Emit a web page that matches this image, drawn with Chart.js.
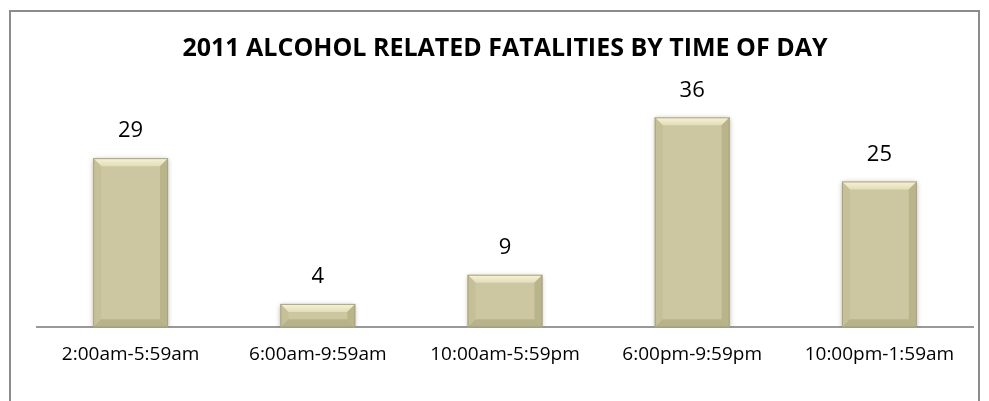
<!DOCTYPE html>
<html>
<head>
<meta charset="utf-8">
<script src="https://cdn.jsdelivr.net/npm/chart.js@4.4.1/dist/chart.umd.min.js"></script>
<style>
  html, body { margin: 0; padding: 0; background: #fff; }
  #wrap { width: 989px; height: 401px; }
</style>
</head>
<body>
<div id="wrap"><canvas id="fatalChart" width="989" height="401"></canvas></div>
<script>
// chart data
const chartTitle = '2011 ALCOHOL RELATED FATALITIES BY TIME OF DAY';
const timeSlots = ['2:00am-5:59am', '6:00am-9:59am', '10:00am-5:59pm', '6:00pm-9:59pm', '10:00pm-1:59am'];
const fatalities = [29, 4, 9, 36, 25];

const fontFamily = '"Open Sans", Lato, sans-serif';

// frame + title drawn behind everything
const framePlugin = {
    id: 'frame',
    beforeDraw(chart) {
        const ctx = chart.ctx;
        const area = chart.chartArea;
        ctx.save();
        ctx.fillStyle = '#fff';
        ctx.fillRect(0, 0, chart.width, chart.height);
        ctx.strokeStyle = '#8c8c8c';
        ctx.lineWidth = 2;
        ctx.strokeRect(10, 11, 969, 420);
        ctx.fillStyle = '#000';
        ctx.font = 'bold 25px ' + fontFamily;
        ctx.textAlign = 'center';
        ctx.textBaseline = 'middle';
        ctx.fillText(chartTitle, (area.left + area.right) / 2, 49);
        ctx.restore();
    }
};

// bevelled bars with a soft shadow and value labels
const bevelPlugin = {
    id: 'bevel',
    beforeDatasetsDraw(chart) {
        const ctx = chart.ctx;
        ctx.save();
        ctx.shadowColor = 'rgba(0,0,0,0.35)';
        ctx.shadowBlur = 5;
        ctx.shadowOffsetX = 0;
        ctx.shadowOffsetY = 1;
    },
    afterDatasetsDraw(chart) {
        const ctx = chart.ctx;
        ctx.restore();
        ctx.save();
        const meta = chart.getDatasetMeta(0);
        meta.data.forEach((bar, i) => {
            const left = bar.x - bar.width / 2;
            const right = bar.x + bar.width / 2;
            const top = bar.y;
            const bottom = bar.base;
            const b = Math.min(8, (bottom - top) / 2);

            // top bevel (light)
            let g = ctx.createLinearGradient(0, top, 0, top + b);
            g.addColorStop(0, '#f6f3d8');
            g.addColorStop(1, '#e2ddb8');
            ctx.fillStyle = g;
            ctx.beginPath();
            ctx.moveTo(left, top);
            ctx.lineTo(right, top);
            ctx.lineTo(right - b, top + b);
            ctx.lineTo(left + b, top + b);
            ctx.closePath();
            ctx.fill();

            // left bevel
            ctx.fillStyle = '#c6c098';
            ctx.beginPath();
            ctx.moveTo(left, top);
            ctx.lineTo(left + b, top + b);
            ctx.lineTo(left + b, bottom - b);
            ctx.lineTo(left, bottom);
            ctx.closePath();
            ctx.fill();

            // right bevel
            ctx.fillStyle = '#bab48b';
            ctx.beginPath();
            ctx.moveTo(right, top);
            ctx.lineTo(right - b, top + b);
            ctx.lineTo(right - b, bottom - b);
            ctx.lineTo(right, bottom);
            ctx.closePath();
            ctx.fill();

            // bottom bevel (dark)
            ctx.fillStyle = '#b8b28a';
            ctx.beginPath();
            ctx.moveTo(left, bottom);
            ctx.lineTo(left + b, bottom - b);
            ctx.lineTo(right - b, bottom - b);
            ctx.lineTo(right, bottom);
            ctx.closePath();
            ctx.fill();

            // outline
            ctx.strokeStyle = '#a9a37f';
            ctx.lineWidth = 1;
            ctx.strokeRect(left + 0.5, top + 0.5, right - left - 1, bottom - top - 1);

            // value label
            ctx.fillStyle = '#000';
            ctx.font = '22px ' + fontFamily;
            ctx.textAlign = 'center';
            ctx.textBaseline = 'middle';
            ctx.fillText(String(fatalities[i]), bar.x, top - 27);
        });
        ctx.restore();
    }
};

const ctx = document.getElementById('fatalChart').getContext('2d');
const fatalChart = new Chart(ctx, {
    type: 'bar',
    data: {
        labels: timeSlots,
        datasets: [{
            data: fatalities,
            backgroundColor: '#cdc7a1',
            borderWidth: 0,
            barPercentage: 0.4,
            categoryPercentage: 1.0
        }]
    },
    options: {
        responsive: false,
        animation: false,
        devicePixelRatio: 1,
        layout: {
            padding: { top: 94, left: 37, right: 16, bottom: 19 }
        },
        plugins: {
            legend: { display: false },
            title: { display: false },
            tooltip: { enabled: false }
        },
        scales: {
            x: {
                grid: { display: false, drawTicks: false },
                border: { display: true, color: '#999', width: 2 },
                ticks: {
                    color: '#000',
                    padding: 16,
                    font: { family: fontFamily, size: 19 }
                }
            },
            y: {
                display: false,
                min: 0,
                max: 40
            }
        }
    },
    plugins: [framePlugin, bevelPlugin]
});
</script>
</body>
</html>
